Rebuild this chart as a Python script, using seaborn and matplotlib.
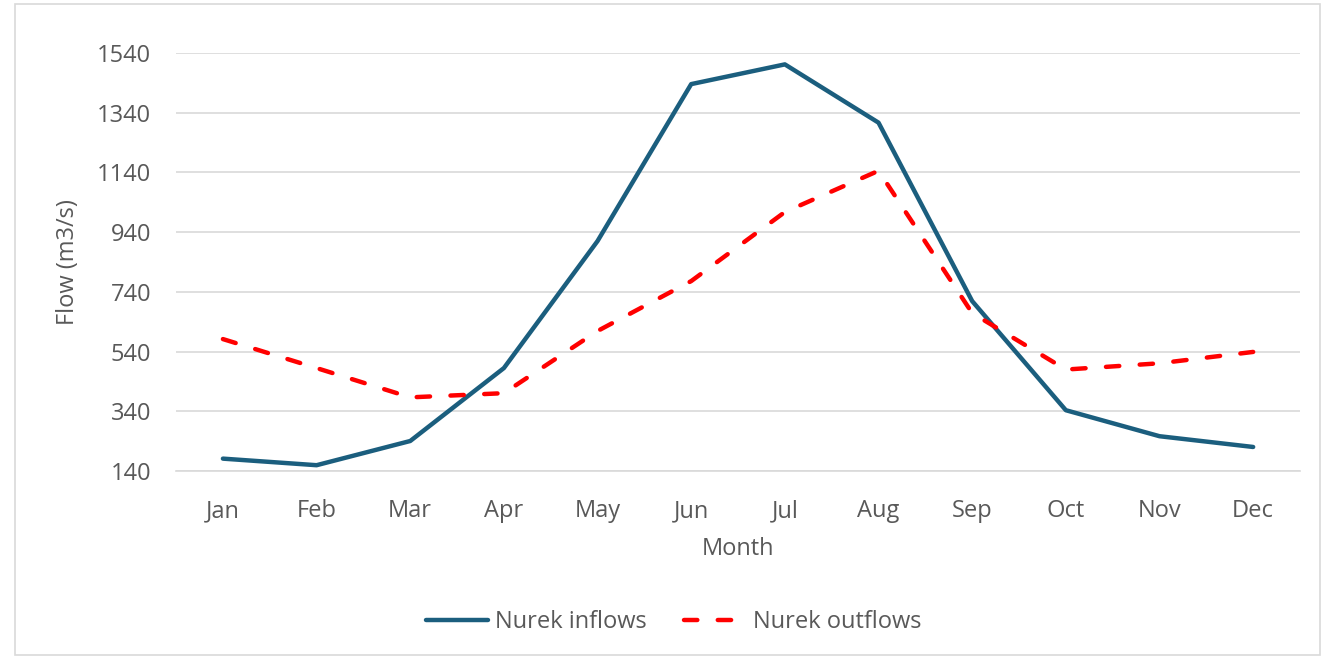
import matplotlib
matplotlib.use('Agg')
import matplotlib.pyplot as plt
import pandas as pd
import seaborn as sns
from matplotlib.patches import Rectangle

months = ['Jan', 'Feb', 'Mar', 'Apr', 'May', 'Jun', 'Jul', 'Aug', 'Sep', 'Oct', 'Nov', 'Dec']
inflows = [182, 160, 241, 485, 910, 1435, 1501, 1306, 709, 344, 257, 221]
outflows = [582, 485, 387, 401, 609, 776, 1007, 1145, 669, 480, 501, 539]
y_ticks = [140, 340, 540, 740, 940, 1140, 1340, 1540]

df = pd.DataFrame({'Month': months, 'inflows': inflows, 'outflows': outflows})

sns.set_theme(style='white')
plt.rcParams['font.family'] = ['Open Sans', 'DejaVu Sans']

GRAY = '#595959'
GRID = '#D9D9D9'
FS = 17

fig = plt.figure(figsize=(13.34, 6.59), dpi=100)
ax = fig.add_axes([0.132, 0.285, 0.8425, 0.635])

sns.lineplot(data=df, x='Month', y='inflows', ax=ax, sort=False,
             color='#1B5E7E', linewidth=3.2, label='Nurek inflows',
             solid_capstyle='round')
sns.lineplot(data=df, x='Month', y='outflows', ax=ax, sort=False,
             color='#FF0000', linewidth=3.2, linestyle=(0, (3.0, 4.6)),
             dash_capstyle='round', label='Nurek outflows')

ax.set_xlim(-0.5, len(months) - 0.5)
ax.set_ylim(y_ticks[0], y_ticks[-1])
ax.set_yticks(y_ticks)
ax.set_yticklabels([str(t) for t in y_ticks])
ax.yaxis.grid(True, color=GRID, linewidth=1.2)
ax.set_axisbelow(True)
for side in ['top', 'right', 'left']:
    ax.spines[side].set_visible(False)
ax.spines['bottom'].set_color(GRID)
ax.spines['bottom'].set_linewidth(1.2)
ax.tick_params(axis='y', length=0, labelsize=FS, labelcolor=GRAY, pad=18)
ax.tick_params(axis='x', length=0, labelsize=FS, labelcolor=GRAY, pad=20)
ax.set_xlabel('Month', fontsize=FS, color=GRAY, labelpad=10)
ax.set_ylabel('Flow (m3/s)', fontsize=FS, color=GRAY, labelpad=12)

ax.legend(loc='center', bbox_to_anchor=(0.443, -0.361), ncol=2, frameon=False,
          fontsize=FS, labelcolor=GRAY, handlelength=2.6, handletextpad=0.3,
          columnspacing=1.6)

fig.patches.append(Rectangle((15 / 1334, 4 / 659), 1305 / 1334, 651 / 659,
                             transform=fig.transFigure, fill=False,
                             edgecolor=GRID, linewidth=1.2))

fig.savefig('out.png', dpi=100)
